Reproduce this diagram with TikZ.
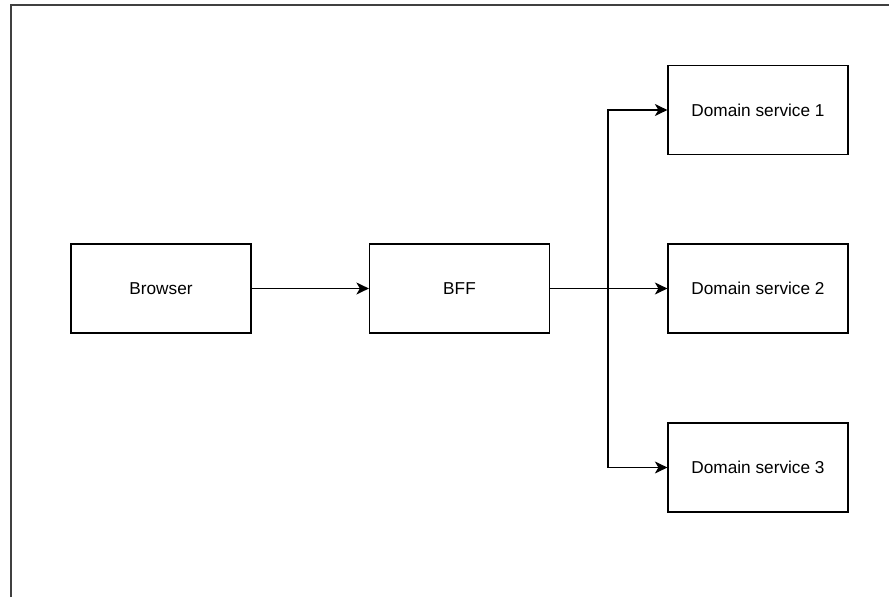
\documentclass[tikz,border=0pt]{standalone}
\usepackage{fontspec}
\setmainfont{Liberation Sans}
\usepackage{tikz}
\usepackage{xcolor}
\usetikzlibrary{arrows.meta}

\begin{document}
\begin{tikzpicture}[boxnode/.style={rectangle, draw=black, fill=white, line width=0.7pt, minimum width=3.6cm, minimum height=1.78cm, inner sep=0pt, font=\fontsize{9.8}{12}\selectfont}]
            \useasboundingbox (0,0) rectangle (17.78,11.94);
            \draw[line width=1.1pt, black!75] (0.22,0) -- (0.22,11.84) -- (17.78,11.84);

            \node[boxnode] (Browser) at (3.22,6.17) {Browser};
            \node[boxnode] (BFF) at (9.19,6.17) {BFF};
            \node[boxnode] (D1) at (15.16,9.74) {Domain service 1};
            \node[boxnode] (D2) at (15.16,6.17) {Domain service 2};
            \node[boxnode] (D3) at (15.16,2.59) {Domain service 3};
            \coordinate (J) at (12.16,6.17);

            \tikzset{arrowline/.style={-{Stealth[length=2.5mm,width=2.4mm,inset=0.7mm]}, line width=0.7pt}}

            \draw[arrowline] (Browser) -- (BFF);
            \draw[arrowline] (BFF) -- (D2);
            \draw[arrowline] (J) |- (D1.west);
            \draw[arrowline] (J) |- (D3.west);

        \end{tikzpicture}
\end{document}
